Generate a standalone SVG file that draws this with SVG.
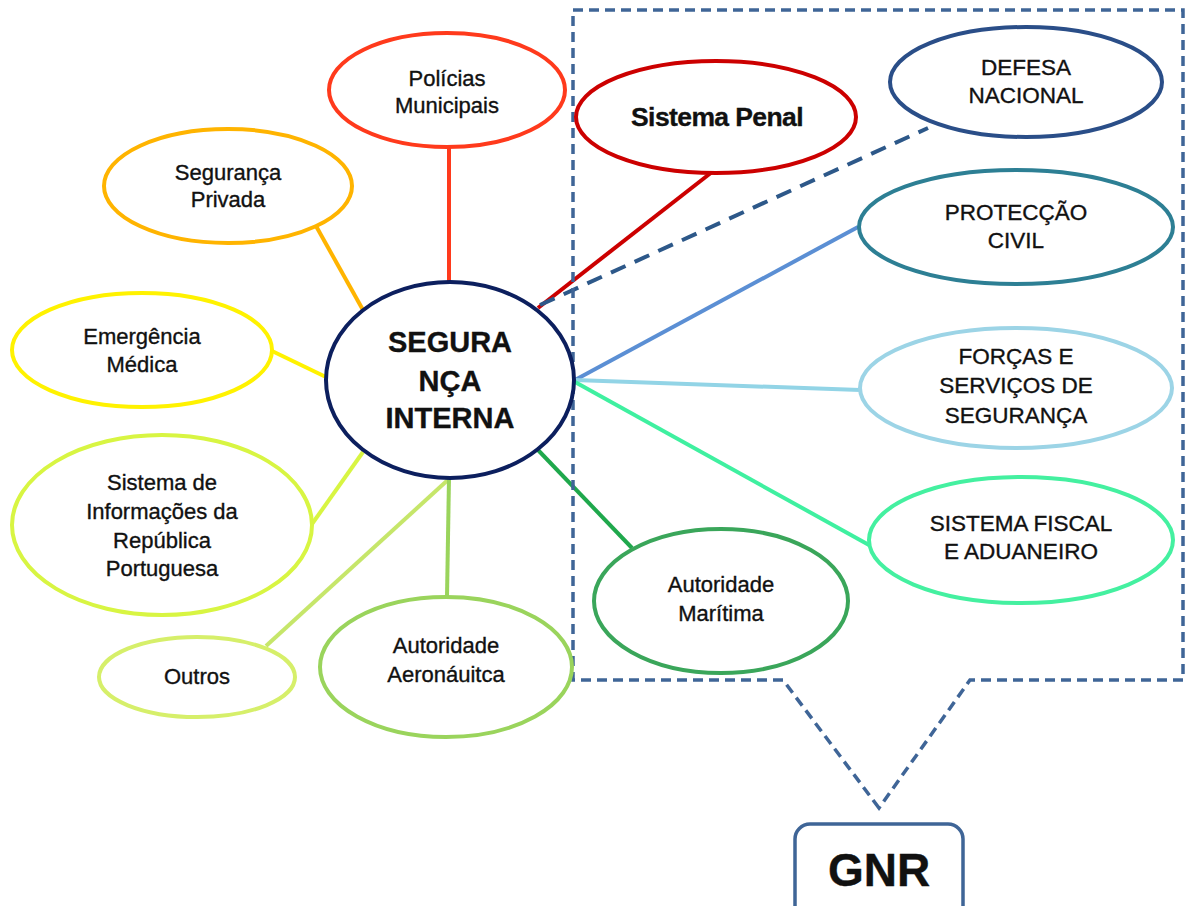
<svg xmlns="http://www.w3.org/2000/svg" width="1187" height="906" viewBox="0 0 1187 906">
<style>
text{font-family:"Liberation Sans",Arial,sans-serif;fill:#111;text-anchor:middle;stroke:#111;stroke-width:0.35}
.t{font-size:22px}
.u{font-size:22.5px}
.n{fill:#fff;stroke-width:4}
.c{fill:none;stroke-width:4}
</style>
<rect width="1187" height="906" fill="#fff"/>
<g id="connectors">
<line class="c" x1="449" y1="147" x2="449" y2="283" stroke="#ff3a1c"/>
<line class="c" x1="316" y1="226" x2="363" y2="310" stroke="#ffb400"/>
<line class="c" x1="272" y1="351" x2="328" y2="378" stroke="#fff200"/>
<line class="c" x1="312" y1="524" x2="363" y2="452" stroke="#d8f542"/>
<line class="c" x1="266" y1="646" x2="450" y2="478" stroke="#c6e66a"/>
<line class="c" x1="447" y1="597" x2="449" y2="478" stroke="#9ad45c"/>
<line class="c" x1="538" y1="450" x2="632" y2="548" stroke="#1fa84c"/>
<line class="c" x1="712" y1="172" x2="538" y2="308" stroke="#cc0000"/>
<line class="c" x1="858" y1="227" x2="575" y2="380" stroke="#5b8fd4"/>
<line class="c" x1="860" y1="390" x2="575" y2="380" stroke="#92d4e6"/>
<line class="c" x1="869" y1="545" x2="575" y2="382" stroke="#3ff0a0"/>
<line class="c" x1="540" y1="305" x2="928" y2="128" stroke="#2d5889" stroke-dasharray="16 10"/>
<path d="M879 808 L783 680 H573 V10 H1183 V680 H970 Z" fill="none" stroke="#3f6597" stroke-width="3.5" stroke-dasharray="10 6"/>
</g>
<g id="central">
<ellipse class="n" cx="450" cy="380" rx="124" ry="98" stroke="#0c1f5e"/>
<text x="450" y="352" font-size="29" font-weight="bold">SEGURA</text>
<text x="450" y="391" font-size="29" font-weight="bold">NÇA</text>
<text x="450" y="428" font-size="29" font-weight="bold">INTERNA</text>
</g>
<g id="policias">
<ellipse class="n" cx="447" cy="90" rx="118" ry="57" stroke="#ff3a1c"/>
<text class="t" x="447" y="86">Polícias</text>
<text class="t" x="447" y="113">Municipais</text>
</g>
<g id="penal">
<ellipse class="n" cx="716" cy="117" rx="140" ry="56" stroke="#cc0000"/>
<text x="717" y="126" font-size="26.5" font-weight="bold" letter-spacing="-0.6">Sistema Penal</text>
</g>
<g id="privada">
<ellipse class="n" cx="228" cy="186" rx="124" ry="57" stroke="#ffb400"/>
<text class="t" x="228" y="180">Segurança</text>
<text class="t" x="228" y="207">Privada</text>
</g>
<g id="emergencia">
<ellipse class="n" cx="142" cy="350" rx="130" ry="57" stroke="#fff200"/>
<text class="t" x="142" y="344">Emergência</text>
<text class="t" x="142" y="372">Médica</text>
</g>
<g id="sirp">
<ellipse class="n" cx="162" cy="525" rx="150" ry="90" stroke="#d8f542"/>
<text class="t" x="162" y="490">Sistema de</text>
<text class="t" x="162" y="519">Informações da</text>
<text class="t" x="162" y="548">República</text>
<text class="t" x="162" y="576">Portuguesa</text>
</g>
<g id="outros">
<ellipse class="n" cx="197" cy="677" rx="98" ry="40" stroke="#d6ef6a"/>
<text class="t" x="197" y="684">Outros</text>
</g>
<g id="aeronautica">
<ellipse class="n" cx="446" cy="667" rx="126" ry="70" stroke="#9ad45c"/>
<text class="t" x="446" y="653">Autoridade</text>
<text class="t" x="446" y="682">Aeronáuitca</text>
</g>
<g id="maritima">
<ellipse class="n" cx="721" cy="601" rx="127" ry="72" stroke="#3aa65a"/>
<text class="t" x="721" y="592">Autoridade</text>
<text class="t" x="721" y="621">Marítima</text>
</g>
<g id="defesa">
<ellipse class="n" cx="1026" cy="82" rx="136" ry="55" stroke="#2a4e88"/>
<text class="u" x="1026" y="75">DEFESA</text>
<text class="u" x="1026" y="103">NACIONAL</text>
</g>
<g id="proteccao">
<ellipse class="n" cx="1016" cy="227" rx="157" ry="57" stroke="#2d7f94"/>
<text class="u" x="1016" y="220">PROTECÇÃO</text>
<text class="u" x="1016" y="248">CIVIL</text>
</g>
<g id="forcas">
<ellipse class="n" cx="1016" cy="388" rx="156" ry="60" stroke="#9cd4e6"/>
<text class="u" x="1016" y="364">FORÇAS E</text>
<text class="u" x="1016" y="393">SERVIÇOS DE</text>
<text class="u" x="1016" y="423">SEGURANÇA</text>
</g>
<g id="fiscal">
<ellipse class="n" cx="1021" cy="540" rx="152" ry="63" stroke="#44f0a0"/>
<text class="u" x="1021" y="531">SISTEMA FISCAL</text>
<text class="u" x="1021" y="559">E ADUANEIRO</text>
</g>
<g id="gnr">
<rect x="795" y="824" width="168" height="100" rx="15" fill="#fff" stroke="#3f6597" stroke-width="3.5"/>
<text x="879" y="886" font-size="46" font-weight="bold">GNR</text>
</g>
</svg>
